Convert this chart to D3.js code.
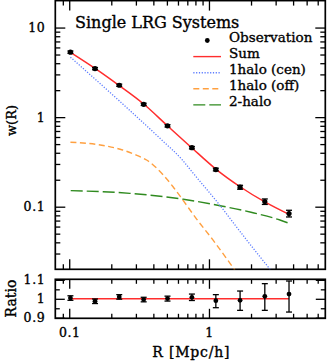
<!DOCTYPE html>
<html>
<head>
<meta charset="utf-8">
<script src="https://cdn.jsdelivr.net/npm/d3@7"></script>
<style>
  html, body { margin: 0; padding: 0; background: #fff; }
  svg { display: block; font-family: "DejaVu Serif", serif; }
  svg text { stroke: #000; stroke-width: 0.35px; }
</style>
</head>
<body>
<div id="chart"></div>
<script>
// --- Data ---
// observed points
const obsR = [0.102, 0.153, 0.228, 0.341, 0.505, 0.755, 1.12, 1.67, 2.51, 3.74];
const obsW = [5.31, 3.48, 2.27, 1.39, 0.80, 0.456, 0.26, 0.165, 0.114, 0.084];
const obsErr = [0.16, 0.10, 0.065, 0.04, 0.024, 0.014, 0.009, 0.0083, 0.008, 0.0072];

// model curves
const sumR = [0.102, 0.153, 0.228, 0.341, 0.505, 0.755, 1.12, 1.67, 2.51, 3.74];
const sumW = [5.29, 3.50, 2.25, 1.40, 0.80, 0.453, 0.263, 0.167, 0.113, 0.082];
const cenR = [0.102, 0.228, 0.459, 0.638, 0.772, 1.166, 1.86, 2.81];
const cenW = [4.67, 1.52, 0.556, 0.339, 0.236, 0.109, 0.0425, 0.019];
const offR = [0.102, 0.183, 0.241, 0.300, 0.358, 0.471, 0.555, 0.655, 0.816, 1.074, 1.535];
const offW = [0.525, 0.477, 0.430, 0.378, 0.332, 0.226, 0.166, 0.117, 0.0728, 0.042, 0.0195];
const twoR = [0.1025, 0.272, 0.655, 1.2, 2.0, 3.22, 3.74];
const twoW = [0.151, 0.141, 0.121, 0.1026, 0.0867, 0.071, 0.0653];

// ratio panel
const ratio = [1.004, 0.987, 1.010, 0.996, 1.001, 1.008, 0.990, 0.992, 1.013, 1.025];
const ratioHi = [1.016, 0.999, 1.022, 1.008, 1.014, 1.025, 1.022, 1.041, 1.080, 1.094];
const ratioLo = [0.992, 0.975, 0.998, 0.984, 0.988, 0.991, 0.953, 0.939, 0.939, 0.930];

// ticks
const xMajor = [0.1, 1];
const xMajorLabels = ["0.1", "1"];
const xMinor = [0.09, 0.2, 0.3, 0.4, 0.5, 0.6, 0.7, 0.8, 0.9, 2, 3, 4, 5, 6];
const yMajor = [0.1, 1, 10];
const yMajorLabels = ["0.1", "1", "10"];
const yMinor = [0.03, 0.04, 0.05, 0.06, 0.07, 0.08, 0.09, 0.2, 0.3, 0.4, 0.5, 0.6, 0.7, 0.8, 0.9, 2, 3, 4, 5, 6, 7, 8, 9];
const rMajor = [0.9, 1, 1.1];
const rMajorLabels = ["0.9", "1", "1.1"];
const rMinor = [0.95, 1.05];

const legendLabels = ["Observation", "Sum", "1halo (cen)", "1halo (off)", "2-halo"];

// --- Layout ---
const width = 327, height = 361;
const left = 55.3, right = 325.3;
const mainTop = 0.6, mainBottom = 269.3;
const ratTop = 279.3, ratBottom = 318.3;

const colors = { sum: "#ff2d2d", cen: "#5c7cff", off: "#ffa040", two: "#2f8a1f" };

const x = d3.scaleLog().domain([0.0795, 6.8]).range([left, right]);
const y = d3.scaleLog().domain([0.02, 20]).range([mainBottom, mainTop]);
const yr = d3.scaleLinear().domain([0.897, 1.103]).range([ratBottom, ratTop]);

const svg = d3.select("#chart").append("svg")
  .attr("width", width)
  .attr("height", height);

svg.append("defs").append("clipPath")
  .attr("id", "clipMain")
  .append("rect")
  .attr("x", left).attr("y", mainTop)
  .attr("width", right - left).attr("height", mainBottom - mainTop);

// --- Axes helper ---
function drawTicks(g, axisFn, scale, values, size, labels, pad) {
  const ax = axisFn(scale)
    .tickValues(values)
    .tickSizeInner(-size)
    .tickSizeOuter(0)
    .tickPadding(pad || 0)
    .tickFormat((d, i) => labels ? labels[i] : "");
  g.call(ax);
  g.select(".domain").remove();
  g.selectAll(".tick line").attr("stroke", "#000").attr("stroke-width", 1.3);
  g.selectAll(".tick text")
    .attr("fill", "#000")
    .style("font-family", "DejaVu Serif")
    .style("font-size", "12.5px")
    .style("letter-spacing", "0.6px");
}

function panelAxes(top, bottom, yScale, major, majorLabels, minor, majLen, minLen, showX) {
  // bottom
  drawTicks(svg.append("g").attr("transform", `translate(0,${bottom})`), d3.axisBottom, x, xMajor, majLen, showX ? xMajorLabels : null, 9.5);
  drawTicks(svg.append("g").attr("transform", `translate(0,${bottom})`), d3.axisBottom, x, xMinor, minLen, null);
  // top
  drawTicks(svg.append("g").attr("transform", `translate(0,${top})`), d3.axisTop, x, xMajor, majLen, null);
  drawTicks(svg.append("g").attr("transform", `translate(0,${top})`), d3.axisTop, x, xMinor, minLen, null);
  // left
  drawTicks(svg.append("g").attr("transform", `translate(${left},0)`), d3.axisLeft, yScale, major, majLen, majorLabels, 10);
  drawTicks(svg.append("g").attr("transform", `translate(${left},0)`), d3.axisLeft, yScale, minor, minLen, null);
  // right
  drawTicks(svg.append("g").attr("transform", `translate(${right},0)`), d3.axisRight, yScale, major, majLen, null);
  drawTicks(svg.append("g").attr("transform", `translate(${right},0)`), d3.axisRight, yScale, minor, minLen, null);

  svg.append("rect")
    .attr("x", left).attr("y", top)
    .attr("width", right - left).attr("height", bottom - top)
    .attr("fill", "none")
    .attr("stroke", "#000")
    .attr("stroke-width", 1.7);
}

panelAxes(mainTop, mainBottom, y, yMajor, yMajorLabels, yMinor, 10, 5, false);
panelAxes(ratTop, ratBottom, yr, rMajor, rMajorLabels, rMinor, 9.5, 4.5, true);

// --- Main panel curves ---
const plot = svg.append("g").attr("clip-path", "url(#clipMain)");

const line = d3.line()
  .x(d => x(d[0]))
  .y(d => y(d[1]))
  .curve(d3.curveMonotoneX);

function drawCurve(R, W, color, dash, widthPx) {
  plot.append("path")
    .datum(R.map((r, i) => [r, W[i]]))
    .attr("d", line)
    .attr("fill", "none")
    .attr("stroke", color)
    .attr("stroke-width", widthPx)
    .attr("stroke-dasharray", dash);
}

drawCurve(twoR, twoW, colors.two, "12,4", 1.4);
drawCurve(offR, offW, colors.off, "6,3.5", 1.4);
drawCurve(cenR, cenW, colors.cen, "1.2,1.6", 1.3);
drawCurve(sumR, sumW, colors.sum, null, 1.5);

// observed points with error bars
const obs = obsR.map((r, i) => ({ r: r, w: obsW[i], e: obsErr[i] }));
const obsG = svg.append("g");
obs.forEach(d => {
  const cx = x(d.r);
  const y0 = y(d.w - d.e), y1 = y(d.w + d.e);
  obsG.append("line").attr("x1", cx).attr("x2", cx).attr("y1", y0).attr("y2", y1)
    .attr("stroke", "#000").attr("stroke-width", 1.3);
  [y0, y1].forEach(yy => {
    obsG.append("line").attr("x1", cx - 3).attr("x2", cx + 3).attr("y1", yy).attr("y2", yy)
      .attr("stroke", "#000").attr("stroke-width", 1.3);
  });
  obsG.append("circle").attr("cx", cx).attr("cy", y(d.w)).attr("r", 2.6).attr("fill", "#000");
});

// --- Ratio panel ---
svg.append("line")
  .attr("x1", x(0.1)).attr("x2", x(obsR[obsR.length - 1]))
  .attr("y1", yr(1)).attr("y2", yr(1))
  .attr("stroke", colors.sum)
  .attr("stroke-width", 1.5);

const ratG = svg.append("g");
obsR.forEach((r, i) => {
  const cx = x(r);
  const y0 = yr(ratioLo[i]), y1 = yr(ratioHi[i]);
  ratG.append("line").attr("x1", cx).attr("x2", cx).attr("y1", y0).attr("y2", y1)
    .attr("stroke", "#000").attr("stroke-width", 1.3);
  [y0, y1].forEach(yy => {
    ratG.append("line").attr("x1", cx - 3).attr("x2", cx + 3).attr("y1", yy).attr("y2", yy)
      .attr("stroke", "#000").attr("stroke-width", 1.3);
  });
  ratG.append("circle").attr("cx", cx).attr("cy", yr(ratio[i])).attr("r", 2.4).attr("fill", "#000");
});

// --- Title & legend ---
svg.append("text")
  .attr("x", 75).attr("y", 28)
  .style("font-size", "16px")
  .text("Single LRG Systems");

const legY = [41.7, 57.8, 73.9, 90, 106.1];
const legStyles = [
  null,
  { color: colors.sum, dash: null },
  { color: colors.cen, dash: "1.2,1.6" },
  { color: colors.off, dash: "6,3.5" },
  { color: colors.two, dash: "12,4" }
];
legendLabels.forEach((lab, i) => {
  if (i === 0) {
    svg.append("circle").attr("cx", 207.3).attr("cy", legY[i] - 1.2).attr("r", 2.4).attr("fill", "#000");
  } else {
    svg.append("line")
      .attr("x1", 193.3).attr("x2", 221)
      .attr("y1", legY[i] - 1.2).attr("y2", legY[i] - 1.2)
      .attr("stroke", legStyles[i].color)
      .attr("stroke-width", 1.4)
      .attr("stroke-dasharray", legStyles[i].dash);
  }
  svg.append("text")
    .attr("x", 229).attr("y", legY[i])
    .style("font-size", "13.5px")
    .text(lab);
});

// --- Axis titles ---
svg.append("text")
  .attr("transform", "translate(15.5,120.5) rotate(-90)")
  .attr("text-anchor", "middle")
  .style("font-size", "13px")
  .text("w(R)");

svg.append("text")
  .attr("transform", "translate(15.5,298.5) rotate(-90)")
  .attr("text-anchor", "middle")
  .style("font-size", "14px")
  .text("Ratio");

svg.append("text")
  .attr("x", 191.3).attr("y", 357)
  .attr("text-anchor", "middle")
  .style("font-size", "14px")
  .style("letter-spacing", "0.8px")
  .text("R [Mpc/h]");
</script>
</body>
</html>
